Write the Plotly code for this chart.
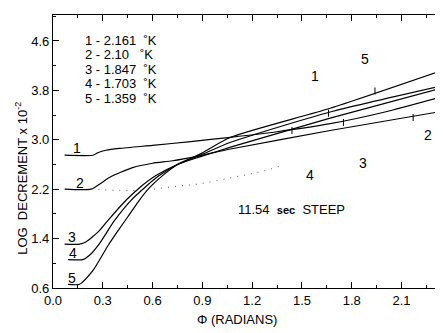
import plotly.graph_objects as go

# ---- data ----
phi1 = [0.07, 0.24, 0.27, 0.32, 0.40, 0.60, 0.83, 1.07, 1.35, 1.67, 2.00, 2.32]
val1 = [2.75, 2.75, 2.79, 2.83, 2.86, 2.91, 2.97, 3.04, 3.13, 3.26, 3.45, 3.68]

phi2 = [0.07, 0.23, 0.28, 0.34, 0.48, 0.60, 0.72, 0.88, 1.07, 1.67, 2.32]
val2 = [2.20, 2.20, 2.28, 2.39, 2.55, 2.62, 2.66, 2.74, 2.85, 3.15, 3.45]

phi3 = [0.07, 0.16, 0.20, 0.28, 0.33, 0.44, 0.52, 0.62, 0.75, 0.88, 1.07, 1.67, 2.32]
val3 = [1.31, 1.31, 1.35, 1.53, 1.69, 2.02, 2.22, 2.42, 2.60, 2.72, 2.88, 3.35, 3.82]

phi4 = [0.09, 0.18, 0.22, 0.28, 0.37, 0.47, 0.55, 0.64, 0.75, 0.88, 1.07, 1.67, 2.32]
val4 = [1.06, 1.06, 1.13, 1.32, 1.69, 2.02, 2.22, 2.42, 2.60, 2.74, 2.96, 3.45, 3.86]

phi5 = [0.09, 0.16, 0.24, 0.33, 0.39, 0.45, 0.52, 0.58, 0.66, 0.75, 0.88, 1.07, 1.67, 2.32]
val5 = [0.66, 0.66, 0.88, 1.28, 1.52, 1.75, 2.02, 2.22, 2.42, 2.60, 2.76, 3.04, 3.51, 4.10]

phi_dot = [0.23, 0.52, 0.72, 0.89, 1.08, 1.23, 1.39]
val_dot = [2.20, 2.18, 2.24, 2.29, 2.39, 2.47, 2.59]

mark_phi = [1.44, 1.66, 1.75, 1.94, 2.17]
mark_val = [3.15, 3.43, 3.28, 3.79, 3.36]

legend_lines = ["1 - 2.161  ˚K", "2 - 2.10   ˚K", "3 - 1.847  ˚K", "4 - 1.703  ˚K", "5 - 1.359  ˚K"]

x_ticks = [0.0, 0.3, 0.6, 0.9, 1.2, 1.5, 1.8, 2.1]
y_ticks = [0.6, 1.4, 2.2, 3.0, 3.8, 4.6]

FONT = "Liberation Sans"
fig = go.Figure()

for px_, v_ in [(phi1, val1), (phi2, val2), (phi3, val3), (phi4, val4), (phi5, val5)]:
    fig.add_trace(go.Scatter(x=px_, y=v_, mode="lines",
                             line=dict(color="black", width=1.2, shape="spline", smoothing=0.6),
                             showlegend=False, hoverinfo="skip"))

fig.add_trace(go.Scatter(x=phi_dot, y=val_dot, mode="lines",
                         line=dict(color="#555", width=1, dash="1px,6px", shape="spline"),
                         showlegend=False, hoverinfo="skip"))

fig.add_trace(go.Scatter(x=mark_phi, y=mark_val, mode="markers",
                         marker=dict(symbol="line-ns", size=5, line=dict(color="black", width=1)),
                         showlegend=False, hoverinfo="skip"))

ann = []
# legend block
ly = [4.61, 4.38, 4.14, 3.91, 3.67]
for t, yv in zip(legend_lines, ly):
    ann.append(dict(x=0.18, y=yv, text=t, xanchor="left", yanchor="middle", showarrow=False,
                    font=dict(size=13, color="black", family=FONT)))

# curve labels
labels = [("1", 0.145, 2.86), ("2", 0.163, 2.30), ("3", 0.115, 1.42), ("4", 0.12, 1.16), ("5", 0.115, 0.76),
          ("1", 1.58, 4.04), ("5", 1.88, 4.31), ("2", 2.26, 3.07), ("3", 1.87, 2.62), ("4", 1.55, 2.43)]
for t, xv, yv in labels:
    ann.append(dict(x=xv, y=yv, text=t, showarrow=False,
                    font=dict(size=14, color="black", family=FONT)))

ann.append(dict(x=1.10, y=1.87, text="11.54  <b><span style='font-size:11px'>sec</span></b>  STEEP",
                xanchor="left", yanchor="middle", showarrow=False,
                font=dict(size=13, color="black", family=FONT)))

ann.append(dict(x=-0.082, y=0.40, xref="paper", yref="paper", textangle=-90,
                xanchor="center", yanchor="middle",
                text="LOG  DECREMENT x 10<sup>-2</sup>", showarrow=False,
                font=dict(size=13, color="black", family=FONT)))
ann.append(dict(x=0.472, y=-0.117, xref="paper", yref="paper",
                xanchor="center", yanchor="middle",
                text="Φ (RADIANS)", showarrow=False,
                font=dict(size=13, color="black", family=FONT)))

# page body has an 8px margin, so the figure is sized/placed to compensate
fig.update_layout(
    width=435, height=325,
    margin=dict(l=45, r=0, t=7, b=45),
    plot_bgcolor="white", paper_bgcolor="white",
    annotations=ann,
    font=dict(family=FONT, color="black", size=13),
)

fig.update_xaxes(range=[0, 2.35], tickvals=x_ticks, ticktext=[f"{v:.1f}" for v in x_ticks],
                 showgrid=False, zeroline=False, showline=True, linecolor="black", linewidth=1.2,
                 mirror="ticks", ticks="inside", ticklen=6, tickcolor="black",
                 minor=dict(dtick=0.15, tick0=0, ticks="inside", ticklen=3, tickcolor="black"),
                 tickfont=dict(size=13, family=FONT))
fig.update_yaxes(range=[0.6, 5.02], tickvals=y_ticks, ticktext=[f"{v:.1f}" for v in y_ticks],
                 showgrid=False, zeroline=False, showline=True, linecolor="black", linewidth=1.2,
                 ticks="inside", ticklen=6, tickcolor="black",
                 minor=dict(dtick=0.4, tick0=0.6, ticks="inside", ticklen=3, tickcolor="black"),
                 tickfont=dict(size=13, family=FONT))

fig.write_html("out.html")
